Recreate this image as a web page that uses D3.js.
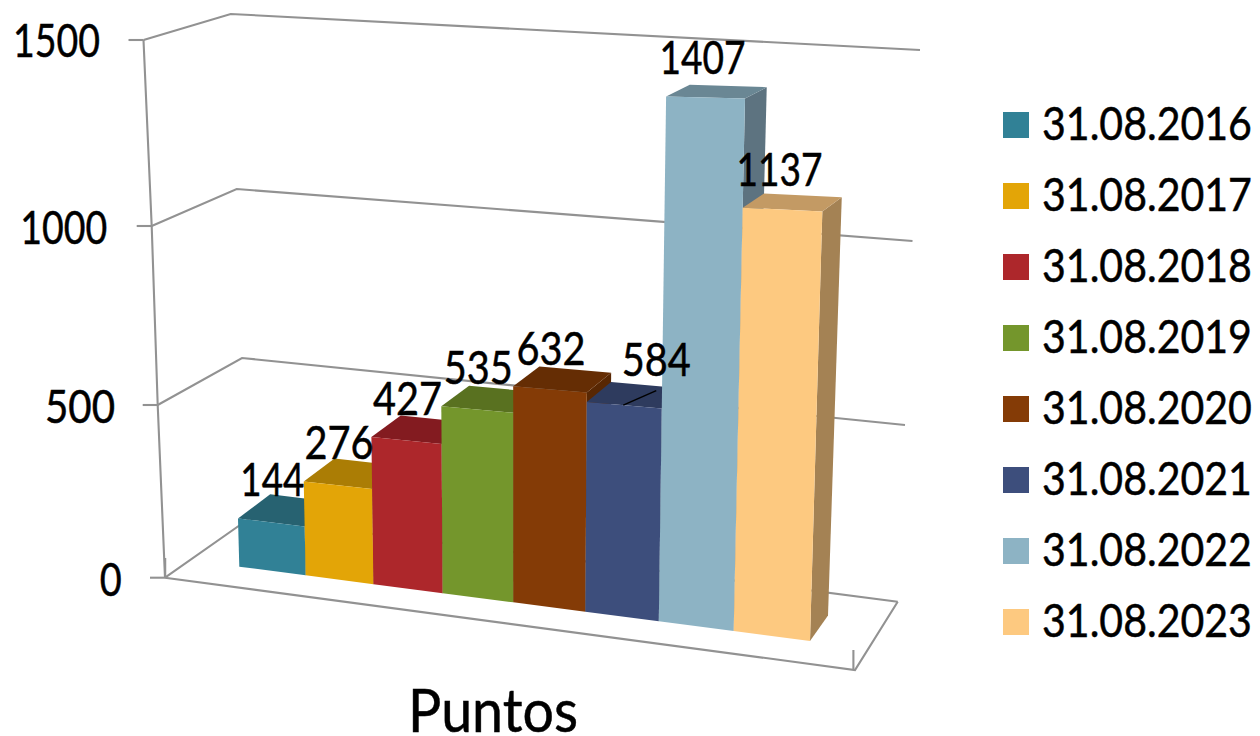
<!DOCTYPE html>
<html>
<head>
<meta charset="utf-8">
<script src="https://cdn.jsdelivr.net/npm/d3@7/dist/d3.min.js"></script>
<style>
html,body{margin:0;padding:0;background:#fff}
svg{display:block}
text{font-family:Lato,"Open Sans",sans-serif;fill:#000;stroke:#000;stroke-width:.5px}
</style>
</head>
<body>
<svg id="chart" width="1260" height="736"></svg>
<script>
// Data
const categories = ["31.08.2016","31.08.2017","31.08.2018","31.08.2019","31.08.2020","31.08.2021","31.08.2022","31.08.2023"];
// Printed data labels
const labels = [144,276,427,535,632,584,1407,1137];
// Levels the bars actually reach in the picture (brown, light blue and cream differ from their printed labels)
const barLevels = [144,276,427,535,610,584,1440,1145];
const axisTicks = [0,500,1000,1500];
const xTitle = "Puntos";
const frontColors = ["#318196","#e3a507","#ad272b","#74962c","#843b06","#3d4e7c","#8db3c4","#fdc980"];
const topColors   = ["#276271","#ab7d05","#831b20","#597120","#652d04","#2e3b5e","#6a8794","#c39a64"];
const sideColors  = ["#215663","#966e04","#72181c","#4e631c","#582703","#283352","#5d7380","#a48254"];

const svg = d3.select("#chart");
const GRID = "#929292";

// Horizontally squeezes a text to a given width around its anchor (Gill-like proportions)
function fit(sel, xFn, yFn, widthFn){
  sel.each(function(d,i){
    const natural = this.getComputedTextLength();
    const sx = widthFn(d,i)/natural;
    d3.select(this).attr("transform",`translate(${xFn(d,i)},${yFn(d,i)}) scale(${sx},1)`);
  });
}

// ---- projection of the 3D box ----
const edgeScale = d3.scaleLinear().domain([0,categories.length]).range([239.3,810]);
const heightScale = d3.scaleLinear().domain([0,1500]).range([0,502.5]);
const edgeX = i => edgeScale(i + 0.00995*i*(i-8));
const baseY = x => 566.7 + 0.1302*(x-239.3);
const heightAt = (x,v) => heightScale(v)*(1+0.00021*(x-239.3));
const leanX = (x,h) => x + (x-517)/10200*h;
function frontPt(x0,v){
  const h = heightAt(x0,v);
  return [leanX(x0,h), baseY(x0)-h];
}
function backPt(x0,v){
  const h = heightAt(x0,v), p = frontPt(x0,v);
  return [p[0] + 32 - 0.0245*(p[0]-239) + 0.004*h, p[1] - 25.5 + 0.0265*h];
}
const poly = pts => d3.line()(pts)+"Z";

// ---- walls: each edge is a scale from axis value to position ----
const wall = (xs,ys) => ({
  x:d3.scaleLinear().domain(axisTicks).range(xs),
  y:d3.scaleLinear().domain(axisTicks).range(ys)
});
const frontLeft = wall([165,157.7,151.7,143.5],[577.7,405,226,40]);
const backLeft  = wall([250,242,236.7,230.7],[518,358,189,14]);
const backRight = wall([897.7,905,912.5,920],[601.7,425,241,50]);
const at = (w,v) => [w.x(v),w.y(v)];

const gridG = svg.append("g").attr("fill","none").attr("stroke",GRID).attr("stroke-width",2.1);
gridG.append("path").attr("d",d3.line()([at(frontLeft,0),at(frontLeft,500),at(frontLeft,1000),at(frontLeft,1500)]));
gridG.selectAll(".wall").data(axisTicks).join("path").attr("class","wall")
  .attr("d",v=>d3.line()([at(frontLeft,v),at(backLeft,v),at(backRight,v)]));
gridG.selectAll(".tick").data(axisTicks).join("path").attr("class","tick")
  .attr("d",v=>{const p=at(frontLeft,v);return d3.line()([[p[0]-15,p[1]],p]);});
// floor front edge and right edge, with the short stubs at both front corners
gridG.append("path").attr("d",d3.line()([at(frontLeft,0),[855,670],at(backRight,0)]));
gridG.append("path").attr("d",d3.line()([[853.4,650],[853.4,670]]));
gridG.append("path").attr("d",d3.line()([[165.2,558],[165.2,577]]));

// ---- axis labels ----
const labelY = d3.scaleLinear().domain(axisTicks).range([596,423.3,244,56.7]);
const labelX = d3.scaleLinear().domain(axisTicks).range([121.7,115,107.3,100]);
const axisWidth = d => String(d).length===4?87:String(d).length===3?70:22;
svg.selectAll(".axlab").data(axisTicks).join("text")
  .attr("class","axlab").attr("font-size",47).attr("text-anchor","end").text(d=>d)
  .call(fit,labelX,labelY,axisWidth);

// ---- bars ----
const bars = svg.selectAll(".bar").data(categories).join("g").attr("class","bar");
bars.each(function(c,i){
  const g = d3.select(this), v = barLevels[i], l = edgeX(i), r = edgeX(i+1);
  g.append("path").attr("fill",sideColors[i])
    .attr("d",poly([frontPt(r,0),backPt(r,0),backPt(r,v),frontPt(r,v)]));
  g.append("path").attr("fill",topColors[i])
    .attr("d",poly([frontPt(l,v),backPt(l,v),backPt(r,v),frontPt(r,v)]));
  g.append("path").attr("fill",frontColors[i])
    .attr("d",poly([frontPt(l,0),frontPt(r,0),frontPt(r,v),frontPt(l,v)]));
});

// ---- data labels ----
const movedIndex = 5;
const topMid = i => {
  const a=frontPt(edgeX(i),barLevels[i]), b=frontPt(edgeX(i+1),barLevels[i]);
  return [(a[0]+b[0])/2,(a[1]+b[1])/2];
};
svg.selectAll(".dl").data(labels).join("text")
  .attr("class","dl").attr("font-size",47).attr("text-anchor","middle").text(d=>d)
  .call(fit,
    (d,i)=>topMid(i)[0] + (i===movedIndex?32:i>5?-3:1),
    (d,i)=>topMid(i)[1] + (i===movedIndex?-29:i>3?-24:-26),
    d=>String(d).length===4?86:(String(d)[0]==="1"?64:69));
// leader line of the moved label
(function(){
  const c=topMid(movedIndex);
  svg.append("path").attr("stroke","#000").attr("stroke-width",1.5).attr("fill","none")
    .attr("d",d3.line()([[c[0]-1,c[1]],[c[0]+32,c[1]-14.5]]));
})();

// ---- title ----
svg.append("text").attr("font-size",60).attr("text-anchor","middle").text(xTitle)
  .call(fit,()=>493,()=>732,()=>170);

// ---- legend ----
const legY = d3.scalePoint().domain(categories).range([125,622]);
const leg = svg.selectAll(".leg").data(categories).join("g").attr("class","leg")
  .attr("transform",d=>`translate(0,${legY(d)})`);
leg.append("rect").attr("x",1003).attr("y",-13).attr("width",26).attr("height",26).attr("fill",(d,i)=>frontColors[i]);
leg.append("text").attr("font-size",47).text(d=>d)
  .call(fit,()=>1042,()=>15,()=>210);
</script>
</body>
</html>
